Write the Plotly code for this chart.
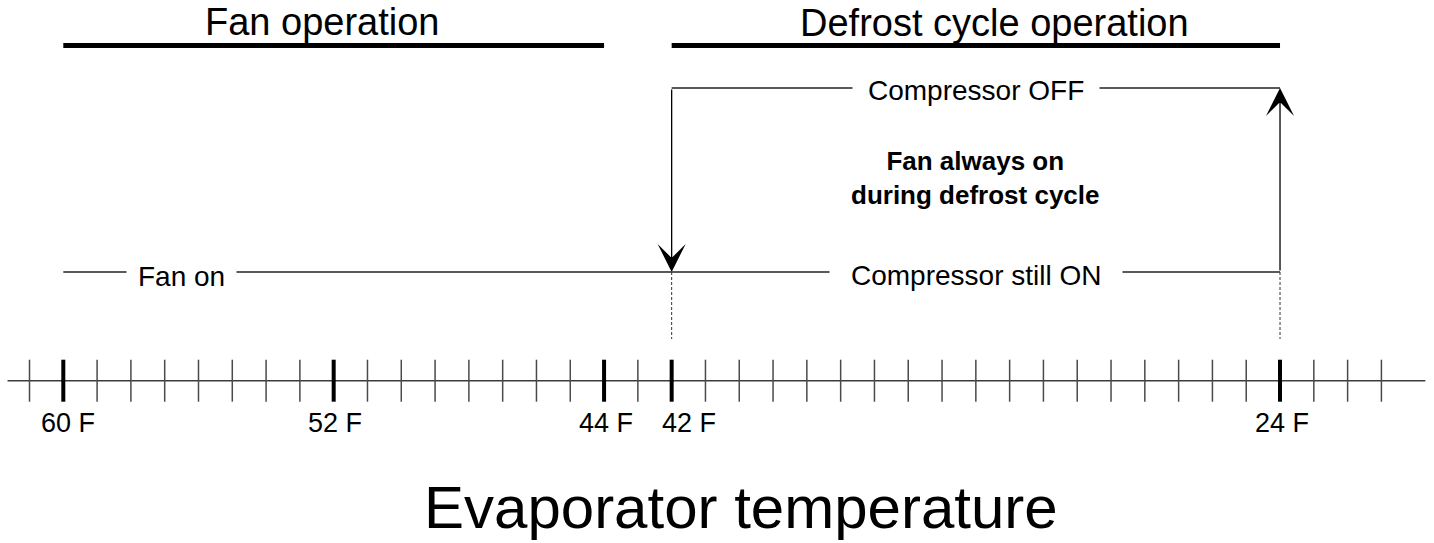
import plotly.graph_objects as go

# ---------------- data ----------------
major_temps = [60, 52, 44, 42, 24]
major_labels = ["60 F", "52 F", "44 F", "42 F", "24 F"]
minor_temps = [61, 59, 58, 57, 56, 55, 54, 53, 51, 50, 49, 48, 47, 46, 45, 43,
               41, 40, 39, 38, 37, 36, 35, 34, 33, 32, 31, 30, 29, 28, 27, 26, 25,
               23, 22, 21]
axis_extent = [61.65, 19.7]
fan_section = [60, 44]
defrost_section = [42, 24]
section_titles = ["Fan operation", "Defrost cycle operation"]
defrost_start = 42
defrost_end = 24

# ---------------- layout constants ----------------
FONT = "Liberation Sans, Arial, sans-serif"
AX_Y = 380.7
RUN_Y = 272
OFF_Y = 88
HEAD_Y = 45.5
DASH_END = 339
LABEL_Y = 422.5
label_shift = [5, 1, 2, 17, 2]

fig = go.Figure()

def line(xs, ys, color="#222222", width=1.3, dash=None):
    fig.add_trace(go.Scatter(x=xs, y=ys, mode="lines",
                             line=dict(color=color, width=width, dash=dash),
                             hoverinfo="skip", showlegend=False))

# axis line
line(axis_extent, [AX_Y, AX_Y], color="#3c3c3c", width=1.5)
# minor ticks
fig.add_trace(go.Scatter(x=minor_temps, y=[AX_Y] * len(minor_temps), mode="markers",
                         marker=dict(symbol="line-ns", size=30, color="#4a4a4a",
                                     line=dict(color="#4a4a4a", width=1.5)),
                         hoverinfo="skip", showlegend=False))
# major ticks
fig.add_trace(go.Scatter(x=major_temps, y=[AX_Y] * len(major_temps), mode="markers",
                         marker=dict(symbol="line-ns", size=30, color="black",
                                     line=dict(color="black", width=4)),
                         hoverinfo="skip", showlegend=False))

# section underlines
line(fan_section, [HEAD_Y, HEAD_Y], color="black", width=5)
line(defrost_section, [HEAD_Y, HEAD_Y], color="black", width=5)

# fan-on run line and compressor lines
line([fan_section[0], defrost_start], [RUN_Y, RUN_Y])
line([defrost_start, defrost_end], [RUN_Y, RUN_Y])
line([defrost_start, defrost_end], [OFF_Y, OFF_Y])

# dashed drop lines
line([defrost_start, defrost_start], [RUN_Y, DASH_END], color="#333333", width=1, dash="3px,2px")
line([defrost_end, defrost_end], [RUN_Y, DASH_END], color="#333333", width=1, dash="3px,2px")

annotations = []
# arrows
for tip_y, tail_y, t in [(RUN_Y, OFF_Y, defrost_start), (OFF_Y, RUN_Y, defrost_end)]:
    annotations.append(dict(x=t, y=tip_y, ax=t, ay=tail_y,
                            xref="x", yref="y", axref="x", ayref="y", text="",
                            showarrow=True, arrowhead=3, arrowsize=3.6, arrowwidth=1.3,
                            arrowcolor="#000000"))

mid_defrost = (defrost_section[0] + defrost_section[1]) / 2

def text(x, y, s, size, pad=0, bold=False, bg=None, yanchor="middle"):
    annotations.append(dict(x=x, y=y, xref="x", yref="y", text=(f"<b>{s}</b>" if bold else s),
                            showarrow=False, xanchor="center", yanchor=yanchor,
                            font=dict(family=FONT, size=size, color="black"),
                            bgcolor=bg, borderpad=pad))

# section titles (top-anchored so they stay inside the page)
text(52.33, 0, section_titles[0], 38, yanchor="top")
text(32.45, 0.5, section_titles[1], 38, yanchor="top")

# line labels
text(56.49, RUN_Y + 4, "Fan on", 28, pad=11, bg="white")
text(mid_defrost, RUN_Y + 3, "Compressor still ON", 28, pad=21, bg="white")
text(mid_defrost, OFF_Y + 2, "Compressor OFF", 28, pad=15, bg="white")
text(mid_defrost, 178, "Fan always on<br>during defrost cycle", 26, bold=True)

# tick labels
for t, lab, sh in zip(major_temps, major_labels, label_shift):
    annotations.append(dict(x=t, y=LABEL_Y, xref="x", yref="y", text=lab, showarrow=False,
                            xanchor="center", yanchor="middle", xshift=sh,
                            font=dict(family=FONT, size=27, color="black")))

# axis title
text(39.95, 507, "Evaporator temperature", 60)

fig.update_layout(
    width=1434, height=543,
    margin=dict(l=0, r=0, t=0, b=0, pad=0),
    paper_bgcolor="white", plot_bgcolor="white",
    showlegend=False,
    xaxis=dict(range=[61.873, 19.444], visible=False, fixedrange=True),
    yaxis=dict(range=[543, 0], visible=False, fixedrange=True),
    annotations=annotations,
)

fig.write_html("out.html", config={"displayModeBar": False},
               post_script="document.body.style.margin='0';")
